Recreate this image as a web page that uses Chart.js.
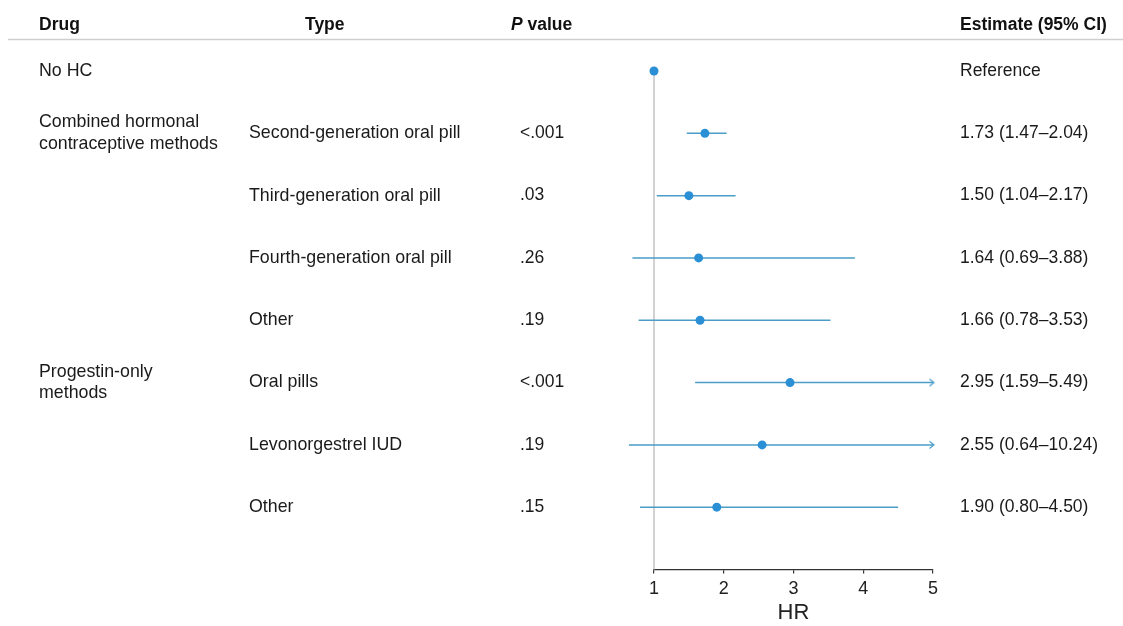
<!DOCTYPE html>
<html>
<head>
<meta charset="utf-8">
<script src="https://cdn.jsdelivr.net/npm/chart.js@4/dist/chart.umd.min.js"></script>
<style>
  body { margin: 0; background: #fff; }
  #wrap { width: 1123px; height: 626px; position: relative; }
</style>
</head>
<body>
<div id="wrap"><canvas id="forest"></canvas></div>
<script>
// rows, top to bottom
const drugLabels = [['No HC'], ['Combined hormonal', 'contraceptive methods'], [], [], [], ['Progestin-only', 'methods'], [], []];
const types = ['', 'Second-generation oral pill', 'Third-generation oral pill', 'Fourth-generation oral pill', 'Other', 'Oral pills', 'Levonorgestrel IUD', 'Other'];
const pValues = ['', '<.001', '.03', '.26', '.19', '<.001', '.19', '.15'];
const hr = [1, 1.73, 1.50, 1.64, 1.66, 2.95, 2.55, 1.90];
const ciLow = [null, 1.47, 1.04, 0.69, 0.78, 1.59, 0.64, 0.80];
const ciHigh = [null, 2.04, 2.17, 3.88, 3.53, 5.49, 10.24, 4.50];
const xTicks = [1, 2, 3, 4, 5];

const xMin = xTicks[0], xMax = xTicks[xTicks.length - 1];
const FONT = "'Liberation Sans', Arial, sans-serif";
const pointColor = '#2b8fd6';
const lineColor = '#4a9dc6';

function fmt(v) { return v.toFixed(2); }
const estimates = hr.map((v, i) => ciLow[i] === null ? 'Reference' : fmt(v) + ' (' + fmt(ciLow[i]) + '\u2013' + fmt(ciHigh[i]) + ')');

// CI segments with gaps between rows; upper bound capped at axis end
const ciData = [];
hr.forEach((v, i) => {
  if (ciLow[i] === null) return;
  ciData.push({x: ciLow[i], y: i}, {x: Math.min(ciHigh[i], xMax), y: i}, {x: null, y: null});
});
const arrowData = [];
ciHigh.forEach((v, i) => { if (v !== null && v > xMax) arrowData.push({x: xMax, y: i}); });

// little open chevron used as point style for truncated intervals
const arrowImg = document.createElement('canvas');
arrowImg.width = 16; arrowImg.height = 12;
(function() {
  const c = arrowImg.getContext('2d');
  c.strokeStyle = lineColor;
  c.lineWidth = 1.2;
  c.beginPath();
  c.moveTo(4.5, 2.5); c.lineTo(9, 6); c.lineTo(4.5, 9.5);
  c.stroke();
})();

const textColumns = {
  id: 'textColumns',
  afterDraw(chart) {
    const ctx = chart.ctx;
    const y = chart.scales.y;
    ctx.save();
    ctx.textBaseline = 'middle';
    ctx.fillStyle = '#111';

    // header
    ctx.font = 'bold 17.5px ' + FONT;
    ctx.fillText('Drug', 39, 25);
    ctx.fillText('Type', 305, 25);
    ctx.font = 'italic bold 17.5px ' + FONT;
    ctx.fillText('P', 511, 25);
    const pw = ctx.measureText('P').width;
    ctx.font = 'bold 17.5px ' + FONT;
    ctx.fillText(' value', 511 + pw, 25);
    ctx.fillText('Estimate (95% CI)', 960, 25);

    ctx.strokeStyle = '#cfcfcf';
    ctx.lineWidth = 1.5;
    ctx.beginPath();
    ctx.moveTo(8, 39.5);
    ctx.lineTo(1123, 39.5);
    ctx.stroke();

    ctx.fillStyle = '#1a1a1a';
    for (let i = 0; i < types.length; i++) {
      const py = y.getPixelForValue(i);
      ctx.font = '17.8px ' + FONT;
      const lines = drugLabels[i];
      lines.forEach((t, k) => {
        ctx.fillText(t, 39, py + (k - (lines.length - 1) / 2) * 21.5);
      });
      if (types[i]) ctx.fillText(types[i], 249, py);
      ctx.font = '17.5px ' + FONT;
      if (pValues[i]) ctx.fillText(pValues[i], 520, py);
      ctx.fillText(estimates[i], 960, py);
    }
    ctx.restore();
  }
};

new Chart(document.getElementById('forest'), {
  type: 'scatter',
  data: {
    datasets: [
      {
        type: 'line',
        data: [{x: 1, y: 0}, {x: 1, y: hr.length}],
        borderColor: '#c4c4c4',
        borderWidth: 1.5,
        pointRadius: 0,
        clip: false,
        order: 4
      },
      {
        type: 'line',
        data: ciData,
        borderColor: lineColor,
        borderWidth: 1.5,
        pointRadius: 0,
        spanGaps: false,
        clip: false,
        order: 3
      },
      {
        data: arrowData,
        pointStyle: arrowImg,
        clip: false,
        order: 2
      },
      {
        data: hr.map((v, i) => ({x: v, y: i})),
        pointRadius: 4.5,
        pointHoverRadius: 4.5,
        backgroundColor: pointColor,
        borderColor: pointColor,
        borderWidth: 0,
        clip: false,
        order: 1
      }
    ]
  },
  options: {
    responsive: true,
    maintainAspectRatio: false,
    animation: false,
    events: [],
    layout: { padding: { left: 654, right: 190, top: 71, bottom: 0 } },
    plugins: { legend: { display: false }, tooltip: { enabled: false } },
    scales: {
      x: {
        type: 'linear',
        min: xMin,
        max: xMax,
        afterBuildTicks(scale) { scale.ticks = xTicks.map(v => ({value: v})); },
        afterFit(scale) { scale.height = 56.5; },
        grid: { drawOnChartArea: false, drawTicks: true, tickLength: 4, color: '#333', lineWidth: 1.2 },
        border: { display: true, color: '#333', width: 1.2 },
        ticks: { color: '#222', padding: 5, font: { family: FONT, size: 18 } },
        title: { display: true, text: 'HR', color: '#222', padding: { top: 0, bottom: 0 }, font: { family: FONT, size: 22 } }
      },
      y: {
        type: 'linear',
        min: 0,
        max: hr.length,
        reverse: true,
        display: false
      }
    }
  },
  plugins: [textColumns]
});
</script>
</body>
</html>
